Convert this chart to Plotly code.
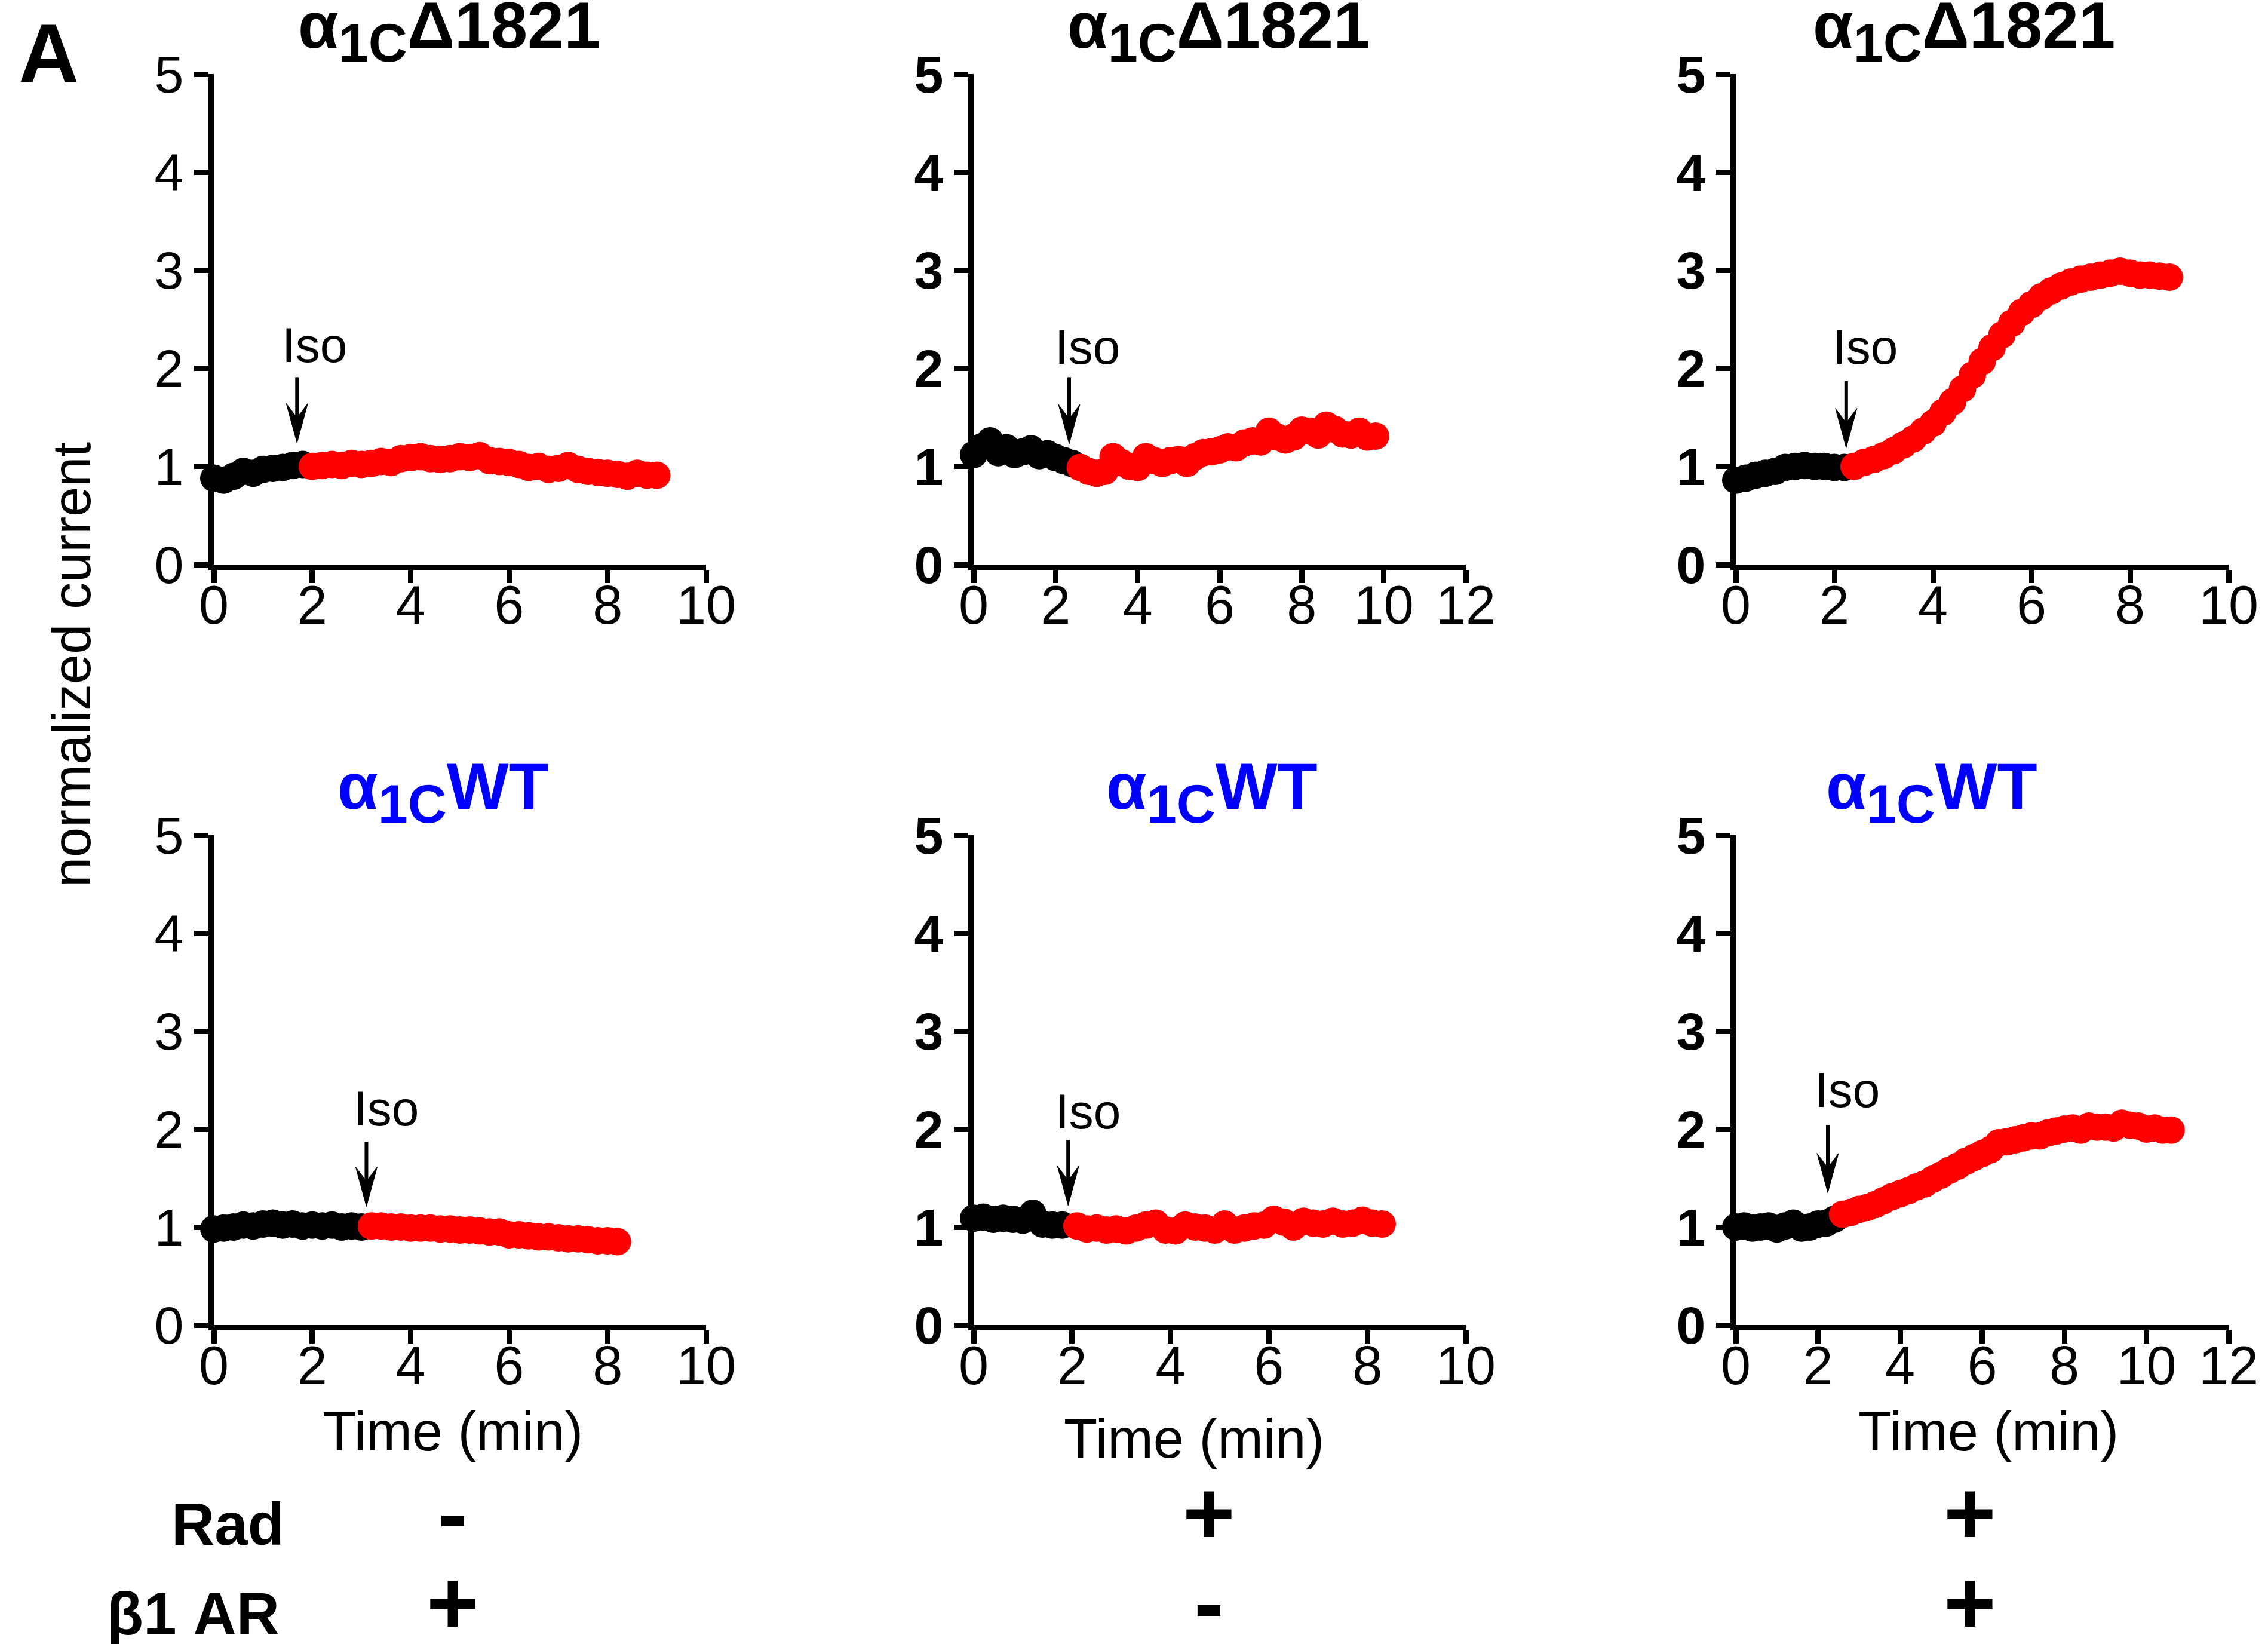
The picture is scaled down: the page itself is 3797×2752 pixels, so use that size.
import plotly.graph_objects as go

W, H = 3797, 2752
FONT = "Liberation Sans, Arial, sans-serif"

# ---------------- data (time in min, normalized current) ----------------
# Panel 1: a1C-d1821, Rad -, b1AR +
p1_base_t = [0.0, 0.2, 0.4, 0.6, 0.8, 1.0, 1.2, 1.4, 1.6, 1.8]
p1_base_v = [0.88, 0.86, 0.90, 0.95, 0.93, 0.97, 0.98, 0.99, 1.01, 1.02]
p1_iso_t = [2.0, 2.2, 2.4, 2.6, 2.8, 3.0, 3.2, 3.4, 3.6, 3.8, 4.0, 4.2, 4.4, 4.6, 4.8, 5.0, 5.2, 5.4,
            5.6, 5.8, 6.0, 6.2, 6.4, 6.6, 6.8, 7.0, 7.2, 7.4, 7.6, 7.8, 8.0, 8.2, 8.4, 8.6, 8.8, 9.0]
p1_iso_v = [1.00, 1.01, 1.02, 1.01, 1.03, 1.02, 1.03, 1.05, 1.04, 1.08, 1.09, 1.10, 1.08, 1.07, 1.08, 1.10,
            1.09, 1.11, 1.06, 1.05, 1.04, 1.02, 0.99, 1.00, 0.97, 0.98, 1.01, 0.97, 0.95, 0.94, 0.93, 0.92,
            0.90, 0.93, 0.91, 0.91]

# Panel 2: a1C-d1821, Rad +, b1AR -
p2_base_t = [0.0, 0.2, 0.4, 0.6, 0.8, 1.0, 1.2, 1.4, 1.6, 1.8, 2.0, 2.2, 2.4]
p2_base_v = [1.12, 1.20, 1.26, 1.14, 1.19, 1.12, 1.15, 1.18, 1.11, 1.13, 1.09, 1.06, 1.03]
p2_iso_t = [2.6, 2.8, 3.0, 3.2, 3.4, 3.6, 3.8, 4.0, 4.2, 4.4, 4.6, 4.8, 5.0, 5.2, 5.4, 5.6, 5.8, 6.0, 6.2,
            6.4, 6.6, 6.8, 7.0, 7.2, 7.4, 7.6, 7.8, 8.0, 8.2, 8.4, 8.6, 8.8, 9.0, 9.2, 9.4, 9.6, 9.8]
p2_iso_v = [0.99, 0.95, 0.93, 0.95, 1.10, 1.04, 1.00, 0.99, 1.10, 1.06, 1.03, 1.06, 1.07, 1.03, 1.10, 1.14,
            1.15, 1.17, 1.20, 1.19, 1.24, 1.26, 1.25, 1.36, 1.30, 1.27, 1.30, 1.37, 1.36, 1.32, 1.42, 1.38,
            1.33, 1.32, 1.36, 1.30, 1.31]

# Panel 3: a1C-d1821, Rad +, b1AR +
p3_base_t = [0.0, 0.2, 0.4, 0.6, 0.8, 1.0, 1.2, 1.4, 1.6, 1.8, 2.0, 2.2]
p3_base_v = [0.86, 0.88, 0.91, 0.93, 0.95, 0.99, 1.00, 1.01, 1.00, 1.00, 0.99, 0.99]
p3_iso_t = [2.4, 2.6, 2.8, 3.0, 3.2, 3.4, 3.6, 3.8, 4.0, 4.2, 4.4, 4.6, 4.8, 5.0, 5.2, 5.4, 5.6, 5.8, 6.0,
            6.2, 6.4, 6.6, 6.8, 7.0, 7.2, 7.4, 7.6, 7.8, 8.0, 8.2, 8.4, 8.6, 8.8]
p3_iso_v = [1.00, 1.04, 1.07, 1.11, 1.16, 1.22, 1.28, 1.36, 1.44, 1.55, 1.66, 1.79, 1.93, 2.07, 2.21, 2.34,
            2.46, 2.57, 2.65, 2.73, 2.79, 2.84, 2.88, 2.91, 2.93, 2.95, 2.97, 2.99, 2.97, 2.95, 2.95, 2.94,
            2.93]

# Panel 4: a1C-WT, Rad -, b1AR +
p4_base_t = [0.0, 0.2, 0.4, 0.6, 0.8, 1.0, 1.2, 1.4, 1.6, 1.8, 2.0, 2.2, 2.4, 2.6, 2.8, 3.0]
p4_base_v = [0.98, 0.99, 1.00, 1.02, 1.01, 1.03, 1.04, 1.02, 1.03, 1.01, 1.02, 1.01, 1.02, 1.00, 1.01, 1.00]
p4_iso_t = [3.2, 3.4, 3.6, 3.8, 4.0, 4.2, 4.4, 4.6, 4.8, 5.0, 5.2, 5.4, 5.6, 5.8, 6.0, 6.2, 6.4, 6.6,
            6.8, 7.0, 7.2, 7.4, 7.6, 7.8, 8.0, 8.2]
p4_iso_v = [1.01, 1.01, 1.00, 1.00, 0.99, 0.99, 0.99, 0.98, 0.98, 0.97, 0.97, 0.96, 0.95, 0.95, 0.92, 0.92,
            0.91, 0.90, 0.90, 0.89, 0.88, 0.88, 0.87, 0.86, 0.86, 0.85]

# Panel 5: a1C-WT, Rad +, b1AR -
p5_base_t = [0.0, 0.2, 0.4, 0.6, 0.8, 1.0, 1.2, 1.4, 1.6, 1.8]
p5_base_v = [1.09, 1.10, 1.08, 1.09, 1.08, 1.07, 1.14, 1.03, 1.02, 1.02]
p5_iso_t = [2.1, 2.3, 2.5, 2.7, 2.9, 3.1, 3.3, 3.5, 3.7, 3.9, 4.1, 4.3, 4.5, 4.7, 4.9, 5.1, 5.3, 5.5,
            5.7, 5.9, 6.1, 6.3, 6.5, 6.7, 6.9, 7.1, 7.3, 7.5, 7.7, 7.9, 8.1, 8.3]
p5_iso_v = [1.01, 0.98, 0.99, 0.97, 0.98, 0.96, 0.99, 1.02, 1.04, 0.97, 0.96, 1.02, 1.00, 0.99, 0.97, 1.03,
            0.97, 0.99, 1.01, 1.02, 1.08, 1.05, 1.00, 1.06, 1.04, 1.03, 1.06, 1.03, 1.04, 1.07, 1.04, 1.03]

# Panel 6: a1C-WT, Rad +, b1AR +
p6_base_t = [0.0, 0.2, 0.4, 0.6, 0.8, 1.0, 1.2, 1.4, 1.6, 1.8, 2.0, 2.2, 2.4]
p6_base_v = [1.00, 1.01, 0.99, 1.00, 1.01, 0.98, 1.01, 1.04, 0.99, 1.00, 1.03, 1.04, 1.08]
p6_iso_t = [2.6, 2.8, 3.0, 3.2, 3.4, 3.6, 3.8, 4.0, 4.2, 4.4, 4.6, 4.8, 5.0, 5.2, 5.4, 5.6, 5.8, 6.0, 6.2,
            6.4, 6.6, 6.8, 7.0, 7.2, 7.4, 7.6, 7.8, 8.0, 8.2, 8.4, 8.6, 8.8, 9.0, 9.2, 9.4, 9.6, 9.8, 10.0,
            10.2, 10.4, 10.6]
p6_iso_v = [1.13, 1.15, 1.18, 1.20, 1.23, 1.27, 1.31, 1.34, 1.37, 1.41, 1.44, 1.49, 1.53, 1.58, 1.62, 1.67,
            1.71, 1.75, 1.79, 1.86, 1.87, 1.89, 1.91, 1.93, 1.93, 1.96, 1.98, 2.00, 2.01, 1.99, 2.03, 2.02,
            2.02, 2.01, 2.06, 2.04, 2.03, 2.00, 2.01, 1.99, 1.99]

x_max = [10, 12, 10, 10, 10, 12]
y_ticks = [0, 1, 2, 3, 4, 5]
panel_titles = ["α<sub><span style='font-size:90px'>1C</span></sub>Δ1821"] * 3 + \
               ["α<sub><span style='font-size:90px'>1C</span></sub>WT"] * 3
title_colors = ["black"] * 3 + ["#0000ff"] * 3

# Iso marker (label position and arrow) per panel
iso_label_t = [2.05, 2.78, 2.62, 3.50, 2.33, 2.71]
iso_label_v = [2.24, 2.22, 2.22, 2.21, 2.18, 2.40]
iso_arrow_t = [1.69, 2.33, 2.24, 3.10, 1.92, 2.24]
iso_arrow_top = [1.91, 1.91, 1.87, 1.87, 1.89, 2.04]
iso_arrow_tip = [1.24, 1.23, 1.19, 1.21, 1.22, 1.35]

condition_rows = ["Rad", "β1 AR"]
rad_signs = ["-", "+", "+"]
b1ar_signs = ["+", "-", "+"]

base_t = [p1_base_t, p2_base_t, p3_base_t, p4_base_t, p5_base_t, p6_base_t]
base_v = [p1_base_v, p2_base_v, p3_base_v, p4_base_v, p5_base_v, p6_base_v]
iso_t = [p1_iso_t, p2_iso_t, p3_iso_t, p4_iso_t, p5_iso_t, p6_iso_t]
iso_v = [p1_iso_v, p2_iso_v, p3_iso_v, p4_iso_v, p5_iso_v, p6_iso_v]

# ---------------- layout geometry (pixels) ----------------
col_px = [(358, 1182), (1630, 2454), (2906, 3731)]
row_px = [(124, 945), (1398, 2218)]   # (y=5 pixel, y=0 pixel)
title_cx = [752, 2040, 3288, 742, 2029, 3234]
time_title_cx = [758, 1999, 3329]
time_title_base = [2428, 2440, 2428]

MS = 46
LW = 9


def px(xp):
    return xp / W


def py(yp):
    return 1 - yp / H


fig = go.Figure()
layout = dict(width=W, height=H, margin=dict(l=0, r=0, t=0, b=0, pad=0, autoexpand=False),
              paper_bgcolor="white", plot_bgcolor="white", showlegend=False,
              font=dict(family=FONT, color="black"))
shapes = []
annotations = []

for i in range(6):
    r, c = divmod(i, 3)
    n = i + 1
    xk = "xaxis" if n == 1 else f"xaxis{n}"
    yk = "yaxis" if n == 1 else f"yaxis{n}"
    xr = "x" if n == 1 else f"x{n}"
    yr = "y" if n == 1 else f"y{n}"
    x0p, x1p = col_px[c]
    y5p, y0p = row_px[r]
    xm = x_max[i]
    layout[xk] = dict(domain=[px(x0p), px(x1p)], range=[0, xm], anchor=yr,
                      tickvals=list(range(0, xm + 1, 2)), showline=True, linewidth=LW,
                      linecolor="black", ticks="outside", ticklen=22, tickwidth=LW,
                      tickcolor="black", showgrid=False, zeroline=False, fixedrange=True,
                      automargin=False, ticklabelstandoff=-40,
                      tickfont=dict(family=FONT, size=90, color="black"))
    yfont = dict(family=FONT, size=88, color="black")
    if c > 0:
        yfont["weight"] = "bold"
    layout[yk] = dict(domain=[py(y0p), py(y5p)], range=[0, 5], anchor=xr,
                      tickvals=y_ticks, showline=True, linewidth=LW, linecolor="black",
                      ticks="outside", ticklen=24, tickwidth=LW, tickcolor="black",
                      showgrid=False, zeroline=False, fixedrange=True, automargin=False,
                      tickfont=yfont)

    fig.add_trace(go.Scatter(x=base_t[i], y=base_v[i], mode="markers", xaxis=xr, yaxis=yr,
                             cliponaxis=False,
                             marker=dict(color="black", size=MS, line=dict(width=0))))
    fig.add_trace(go.Scatter(x=iso_t[i], y=iso_v[i], mode="markers", xaxis=xr, yaxis=yr,
                             cliponaxis=False,
                             marker=dict(color="#ff0000", size=MS, line=dict(width=0))))

    # Iso label and arrow
    annotations.append(dict(xref=xr, yref=yr, x=iso_label_t[i], y=iso_label_v[i], text="Iso",
                            showarrow=False, xanchor="center", yanchor="middle",
                            font=dict(family=FONT, size=82, color="black")))
    ppx = (x1p - x0p) / xm          # pixels per minute
    ppy = (y0p - y5p) / 5.0         # pixels per unit
    at = iso_arrow_t[i]
    tip = iso_arrow_tip[i]
    hw = 18 / ppx
    hl = 66 / ppy
    notch = 42 / ppy
    shapes.append(dict(type="line", xref=xr, yref=yr, x0=at, x1=at, y0=iso_arrow_top[i],
                       y1=tip + notch * 0.9, line=dict(color="black", width=6)))
    shapes.append(dict(type="path", xref=xr, yref=yr,
                       path=f"M {at},{tip} L {at - hw},{tip + hl} L {at},{tip + notch} "
                            f"L {at + hw},{tip + hl} Z",
                       fillcolor="black", line=dict(color="black", width=1)))

    # panel title
    tf = 110
    base_line = y5p - 44
    annotations.append(dict(xref="paper", yref="paper", x=px(title_cx[i]),
                            y=py(base_line - 0.905 * tf - 2), text=panel_titles[i],
                            showarrow=False, xanchor="center", yanchor="top",
                            font=dict(family=FONT, size=tf, color=title_colors[i], weight="bold")))

# x-axis titles for bottom row
for c in range(3):
    f = 92
    annotations.append(dict(xref="paper", yref="paper", x=px(time_title_cx[c]),
                            y=py(time_title_base[c] - 0.905 * f - 2), text="Time (min)",
                            showarrow=False, xanchor="center", yanchor="top",
                            font=dict(family=FONT, size=f, color="black")))

# shared y title
annotations.append(dict(xref="paper", yref="paper", x=px(120), y=py(1113),
                        text="normalized current", textangle=-90, showarrow=False,
                        xanchor="center", yanchor="middle",
                        font=dict(family=FONT, size=90, color="black")))

# panel letter
annotations.append(dict(xref="paper", yref="paper", x=px(81), y=py(138 - 0.905 * 140 - 2),
                        text="A", showarrow=False, xanchor="center", yanchor="top",
                        font=dict(family=FONT, size=140, color="black", weight="bold")))

# condition table
row_base = [2585, 2735]
row_label_cx = [381, 323]
sign_cx = [758, 2024, 3298]
for k, lab in enumerate(condition_rows):
    f = 100
    annotations.append(dict(xref="paper", yref="paper", x=px(row_label_cx[k]),
                            y=py(row_base[k] - 0.905 * f - 2), text=lab, showarrow=False,
                            xanchor="center", yanchor="top",
                            font=dict(family=FONT, size=f, color="black", weight="bold")))
    signs = rad_signs if k == 0 else b1ar_signs
    for c in range(3):
        fs = 150
        annotations.append(dict(xref="paper", yref="paper", x=px(sign_cx[c]),
                                y=py(row_base[k] - 0.905 * fs - 2), text=signs[c],
                                showarrow=False, xanchor="center", yanchor="top",
                                font=dict(family=FONT, size=fs, color="black", weight="bold")))

layout["shapes"] = shapes
layout["annotations"] = annotations
fig.update_layout(**layout)
fig.write_html("out.html")
